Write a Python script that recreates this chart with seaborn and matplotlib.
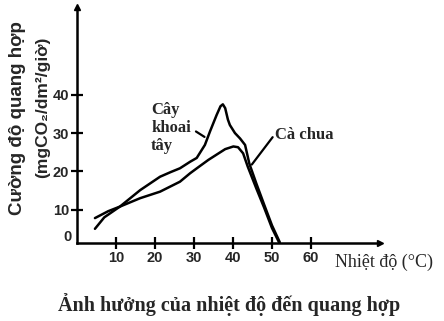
import matplotlib
matplotlib.use("Agg")
import matplotlib.pyplot as plt
import seaborn as sns
import pandas as pd

# Data
potato_x = [4.6, 7, 11, 16.2, 21.3, 24, 26.4, 29, 30.7, 32.8, 34.1, 35.8, 36.8, 37.4, 38.0,
            38.7, 39.2, 40.5, 41.8, 43.1, 44.2, 46, 48, 50, 52]
potato_y = [5.0, 8.0, 10.8, 15.1, 18.6, 19.8, 20.8, 22.5, 23.5, 26.9, 30.4, 34.7, 37.0, 37.5, 36.5,
            33.5, 32.1, 30.0, 28.6, 26.9, 22.0, 16.8, 11.3, 5.9, 1.5]
tomato_x = [4.6, 8, 11, 16.2, 21.3, 26.4, 29, 31, 33.7, 36, 38, 40.1, 41.3, 42.6, 43.8,
            46, 48, 50, 51.8]
tomato_y = [7.8, 9.6, 10.8, 13.0, 14.7, 17.3, 19.5, 21.0, 23.0, 24.5, 25.8, 26.5, 26.3, 24.7, 21.2,
            15.5, 10.5, 5.2, 1.5]
xticks = [10, 20, 30, 40, 50, 60]
yticks = [10, 20, 30, 40]

df = pd.concat([
    pd.DataFrame({"t": potato_x, "v": potato_y, "s": "Cây khoai tây"}),
    pd.DataFrame({"t": tomato_x, "v": tomato_y, "s": "Cà chua"}),
])

sns.set_style("white")
plt.rcParams["font.family"] = ["Liberation Sans Narrow", "Liberation Sans", "DejaVu Sans"]

fig = plt.figure(figsize=(4.44, 3.21), dpi=100)
ax = fig.add_axes([77 / 444, 78 / 321, 303 / 444, 236 / 321])

for name, sub in df.groupby("s", sort=False):
    sns.lineplot(data=sub, x="t", y="v", ax=ax, color="black", linewidth=1.8,
                 sort=False, estimator=None, legend=False)

ax.set_xlim(0, 77.7)
ax.set_ylim(1.3, 62.9)
for s in ["top", "right"]:
    ax.spines[s].set_visible(False)
for s in ["left", "bottom"]:
    ax.spines[s].set_linewidth(1.8)
    ax.spines[s].set_color("black")

ax.plot(1, 0, ">k", ms=4, transform=ax.transAxes, clip_on=False)
ax.plot(0, 1, "^k", ms=4, transform=ax.transAxes, clip_on=False)

ax.set_xticks(xticks)
ax.set_yticks(yticks)
ax.tick_params(axis="both", bottom=True, left=True, direction="inout", length=9,
               width=1.6, color="black", labelsize=10.5, pad=1)
for lab in ax.get_xticklabels() + ax.get_yticklabels():
    lab.set_fontweight("bold")
ax.text(-1.5, 2.9, "0", ha="right", va="center", fontsize=10.5, fontweight="bold")
ax.set_xlabel("")
ax.set_ylabel("")

serif = ["Liberation Serif", "DejaVu Serif"]
ax.text(19.0, 31.3, "Cây\nkhoai\ntây", ha="left", va="center", fontsize=12,
        fontweight="bold", family=serif, linespacing=1.15)
ax.annotate("", xy=(33.3, 28.6), xytext=(29.9, 30.8),
            arrowprops=dict(arrowstyle="-", color="black", lw=1.6))
ax.text(50.8, 29.5, "Cà chua", ha="left", va="center", fontsize=12,
        fontweight="bold", family=serif)
ax.annotate("", xy=(44.4, 21.2), xytext=(50.6, 29.5),
            arrowprops=dict(arrowstyle="-", color="black", lw=1.6))

fig.text(335 / 444, 1 - 262 / 321, "Nhiệt độ (°C)", ha="left", va="center",
         fontsize=13, family=serif)
fig.text(18 / 444, 1 - 118 / 321, "Cường độ quang hợp", rotation=90, ha="center",
         va="center", fontsize=13.5, fontweight="bold")
fig.text(43 / 444, 1 - 107 / 321, "(mgCO₂/dm²/giờ)", rotation=90, ha="center",
         va="center", fontsize=12.5, fontweight="bold")
fig.text(229 / 444, 1 - 305 / 321, "Ảnh hưởng của nhiệt độ đến quang hợp", ha="center",
         va="center", fontsize=14.5, fontweight="bold", family=serif)

fig.savefig("out.png", dpi=100)
